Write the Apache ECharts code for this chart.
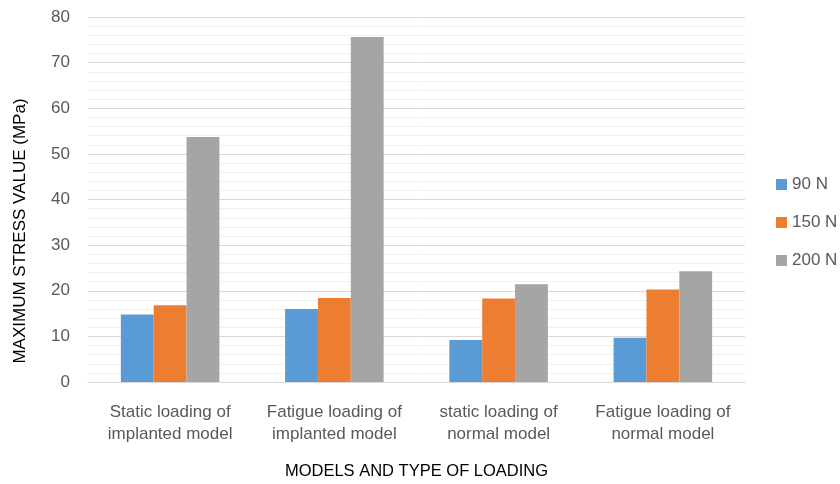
<!DOCTYPE html>
<html>
<head>
<meta charset="utf-8">
<script src="https://cdn.jsdelivr.net/npm/echarts@6/dist/echarts.min.js"></script>
<style>
  html, body { margin: 0; padding: 0; background: #fff; }
  #chart { width: 840px; height: 484px; }
</style>
</head>
<body>
<div id="chart"></div>
<script>
// Loading cases (x-axis categories)
const categories = [
  'Static loading of\nimplanted model',
  'Fatigue loading of\nimplanted model',
  'static loading of\nnormal model',
  'Fatigue loading of\nnormal model'
];
const seriesNames = ['90 N', '150 N', '200 N'];
// Maximum stress (MPa) per load level
const load90 = [14.8, 16.0, 9.2, 9.7];
const load150 = [16.8, 18.4, 18.3, 20.3];
const load200 = [53.7, 75.6, 21.4, 24.3];
const colors = ['#5b9bd5', '#ed7d31', '#a5a5a5'];

const FONT = '"Liberation Sans", "DejaVu Sans", sans-serif';
const chart = echarts.init(document.getElementById('chart'));
const values = [load90, load150, load200];

chart.setOption({
  animation: false,
  textStyle: { fontFamily: FONT },
  grid: { left: 88, right: 95, top: 17, bottom: 102, outerBoundsMode: 'none', containLabel: false },
  // vertical axis title, sitting a little below the plot's midline
  graphic: [{
    type: 'text',
    x: 20,
    y: 231,
    rotation: Math.PI / 2,
    style: {
      text: 'MAXIMUM STRESS VALUE (MPa)',
      fill: '#000',
      font: '17px ' + FONT,
      align: 'center',
      verticalAlign: 'middle'
    }
  }],
  legend: {
    orient: 'vertical',
    left: 776,
    top: 176,
    padding: 0,
    itemWidth: 11,
    itemHeight: 11,
    itemGap: 21,
    itemStyle: { borderWidth: 0 },
    icon: 'rect',
    textStyle: { color: '#595959', fontSize: 17, fontFamily: FONT },
    data: seriesNames
  },
  xAxis: {
    type: 'category',
    data: categories,
    name: 'MODELS AND TYPE OF LOADING',
    nameLocation: 'middle',
    nameGap: 81,
    nameTextStyle: { color: '#000', fontSize: 16.5, fontFamily: FONT },
    axisLine: { lineStyle: { color: '#d9d9d9' } },
    axisTick: { show: false },
    axisLabel: { interval: 0, color: '#595959', fontSize: 17, lineHeight: 22, margin: 19, fontFamily: FONT }
  },
  yAxis: {
    type: 'value',
    min: 0,
    max: 80,
    interval: 10,
    axisLine: { show: false },
    axisTick: { show: false },
    axisLabel: { color: '#595959', fontSize: 17, margin: 18, fontFamily: FONT },
    splitLine: { lineStyle: { color: '#d9d9d9', width: 1 } },
    minorTick: { show: false, splitNumber: 5 },
    minorSplitLine: { show: true, lineStyle: { color: '#f0f0f0', width: 1 } }
  },
  series: seriesNames.map((name, i) => ({
    name,
    type: 'bar',
    data: values[i],
    barGap: '0%',
    barCategoryGap: '40%',
    itemStyle: { color: colors[i] }
  }))
});
</script>
</body>
</html>
